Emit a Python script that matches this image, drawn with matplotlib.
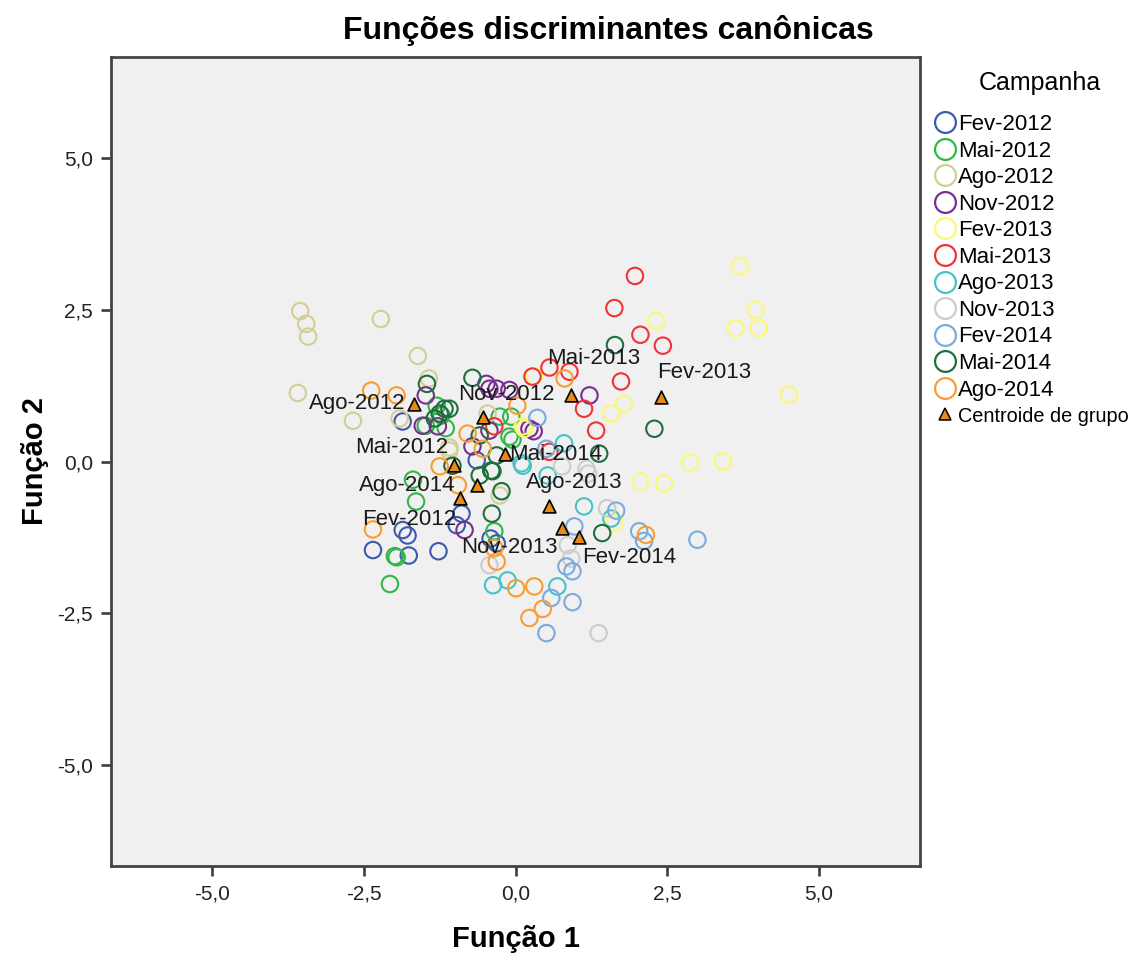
import matplotlib
matplotlib.use("Agg")
import matplotlib.pyplot as plt
from matplotlib.lines import Line2D

plt.rcParams['font.family'] = ['Liberation Sans', 'DejaVu Sans']

# ---- data: discriminant scores per campaign ----
campaigns = ["Fev-2012", "Mai-2012", "Ago-2012", "Nov-2012", "Fev-2013", "Mai-2013",
             "Ago-2013", "Nov-2013", "Fev-2014", "Mai-2014", "Ago-2014"]

fev2012_x = [-2.35, -1.86, -1.78, -1.76, -1.27, -0.89, -0.97, -1.86, -0.64, -0.41, -0.31]
fev2012_y = [-1.46, -1.13, -1.22, -1.55, -1.48, -0.86, -1.05, 0.66, 0.02, -1.27, -1.35]

mai2012_x = [-1.30, -1.22, -1.48, -1.69, -1.64, -1.99, -1.96, -2.07, -0.26, -0.07, -0.10, -0.35, -0.05, -1.15]
mai2012_y = [0.92, 0.76, 0.59, -0.30, -0.66, -1.56, -1.58, -2.02, 0.74, 0.74, 0.41, -1.15, 0.36, 0.55]

ago2012_x = [-3.55, -3.45, -3.42, -2.22, -1.61, -3.59, -2.68, -1.43, -1.09, -0.46, -1.09, -0.26, -1.91]
ago2012_y = [2.48, 2.27, 2.06, 2.35, 1.74, 1.13, 0.67, 1.37, 0.18, 0.79, 0.23, -0.56, 0.71]

nov2012_x = [-1.48, -1.53, -1.28, -0.48, -0.43, -0.31, -0.10, -0.71, -0.43, 0.23, 1.22, 0.30, -0.84]
nov2012_y = [1.09, 0.59, 0.58, 1.28, 1.20, 1.20, 1.18, 0.25, 0.51, 0.54, 1.09, 0.50, -1.13]

fev2013_x = [3.70, 3.96, 3.63, 4.01, 2.32, 4.51, 1.79, 1.58, 2.88, 3.42, 2.06, 2.45, 1.63, 0.31, 0.12, 0.15]
fev2013_y = [3.22, 2.50, 2.20, 2.20, 2.32, 1.10, 0.95, 0.79, -0.02, 0.00, -0.33, -0.36, -1.02, 1.41, 0.58, 0.54]

mai2013_x = [1.97, 1.63, 2.06, 2.43, 1.74, 1.13, 1.33, 0.56, 0.89, 0.28, -0.35, 0.56]
mai2013_y = [3.06, 2.53, 2.09, 1.91, 1.32, 0.87, 0.51, 1.55, 1.48, 1.40, 0.58, 0.16]

ago2013_x = [0.10, 0.80, 1.13, 1.58, -0.37, -0.13, 0.69, 0.53, 0.12]
ago2013_y = [-0.03, 0.30, -0.74, -0.94, -2.04, -1.96, -2.06, -0.23, -0.07]

nov2013_x = [1.37, 0.77, 1.17, 1.51, 0.86, 0.92, -0.43, 1.20]
nov2013_y = [-2.83, -0.08, -0.12, -0.77, -1.38, -1.60, -1.71, -0.20]

fev2014_x = [3.00, 2.04, 2.12, 1.66, 0.97, 0.84, 0.94, 0.59, 0.94, 0.51, 0.36, 0.51]
fev2014_y = [-1.29, -1.15, -1.31, -0.81, -1.07, -1.73, -1.81, -2.25, -2.32, -2.83, 0.72, 0.21]

mai2014_x = [1.64, 2.29, 1.43, 1.38, -1.46, -0.71, -1.25, -1.17, -1.09, -1.33, -0.59, -0.31, -0.40,
             -0.23, -0.39, -1.04, -0.38, -0.59]
mai2014_y = [1.92, 0.54, -1.18, 0.13, 1.28, 1.38, 0.79, 0.87, 0.87, 0.71, 0.43, 0.10, -0.15,
             -0.49, -0.86, -0.07, -0.16, -0.23]

ago2014_x = [-2.38, -1.96, -2.35, -1.25, -0.95, -0.79, -0.54, 0.03, 0.81, 2.15, -0.31, 0.01,
             0.31, 0.45, 0.23, -0.35]
ago2014_y = [1.17, 1.09, -1.12, -0.08, -0.39, 0.46, 0.21, 0.92, 1.37, -1.21, -1.65, -2.09,
             -2.06, -2.43, -2.58, -1.43]

# group centroids (same order as campaigns)
centroid_x = [-0.92, -1.02, -1.68, -0.53, 2.40, 0.92, 0.56, 0.76, 1.05, -0.18, -0.64]
centroid_y = [-0.61, -0.05, 0.95, 0.74, 1.07, 1.10, -0.74, -1.09, -1.25, 0.13, -0.39]

tick_values = [-5.0, -2.5, 0.0, 2.5, 5.0]
tick_labels = ["-5,0", "-2,5", "0,0", "2,5", "5,0"]

# ---- styling ----
colors = ["#3E58AC", "#2EB848", "#D3CE97", "#7B2D8F", "#FBF873", "#EF3338",
          "#48C2C5", "#CCCCCC", "#7BAADD", "#1F6F3C", "#F99D33"]
centroid_color = "#E8891A"
# label offsets (pixels) relative to each centroid
label_offsets = [(-51, -21), (-52, 17), (-56, 0), (23, 22), (43, 24), (22, 36),
                 (25, 24), (-52, -20), (50, -20), (51, -1), (-69, 0)]

series_x = [fev2012_x, mai2012_x, ago2012_x, nov2012_x, fev2013_x, mai2013_x,
            ago2013_x, nov2013_x, fev2014_x, mai2014_x, ago2014_x]
series_y = [fev2012_y, mai2012_y, ago2012_y, nov2012_y, fev2013_y, mai2013_y,
            ago2013_y, nov2013_y, fev2014_y, mai2014_y, ago2014_y]

fig = plt.figure(figsize=(11.46, 9.56), dpi=100)
ax = fig.add_axes([111 / 1146, 1 - 866 / 956, (920 - 111) / 1146, (866 - 57) / 956])
ax.set_facecolor("#F0F0F0")

for xs, ys, c in zip(series_x, series_y, colors):
    ax.scatter(xs, ys, s=140, facecolors="none", edgecolors=c, linewidths=1.5, zorder=2)

ax.scatter(centroid_x, centroid_y, marker="^", s=85, facecolors=centroid_color,
           edgecolors="black", linewidths=1.2, zorder=4)

for name, cx, cy, (dx, dy) in zip(campaigns, centroid_x, centroid_y, label_offsets):
    ax.annotate(name, (cx, cy), xytext=(dx, dy), textcoords="offset pixels",
                ha="center", va="center", fontsize=16, color="#1a1a1a", zorder=5)

ax.set_xlim(-6.67, 6.67)
ax.set_ylim(-6.67, 6.67)
ax.set_xticks(tick_values)
ax.set_xticklabels(tick_labels)
ax.set_yticks(tick_values)
ax.set_yticklabels(tick_labels)
ax.tick_params(direction="out", length=7, width=2, color="#444444", labelsize=15,
               labelcolor="#222222", pad=6)
for sp in ax.spines.values():
    sp.set_color("#444444")
    sp.set_linewidth(2)

ax.set_xlabel("Função 1", fontsize=21, fontweight="bold", labelpad=16)
ax.set_ylabel("Função 2", fontsize=21, fontweight="bold", labelpad=6)
fig.text(608 / 1146, 1 - 30 / 956, "Funções discriminantes canônicas", ha="center",
         va="center", fontsize=23, fontweight="bold")

# legend: title drawn as its own text, entries below it
fig.text(1040 / 1146, 1 - 83 / 956, "Campanha", ha="center", va="center", fontsize=18)
handles = [Line2D([], [], linestyle="none", marker="o", markersize=15, markerfacecolor="none",
                  markeredgecolor=c, markeredgewidth=1.6) for c in colors]
handles.append(Line2D([], [], linestyle="none", marker="^", markersize=9,
                      markerfacecolor=centroid_color, markeredgecolor="black", markeredgewidth=1.1))
leg = fig.legend(handles, campaigns + ["Centroide de grupo"], loc="upper left",
                 bbox_to_anchor=(934 / 1146, 1 - 114 / 956), frameon=False, fontsize=16,
                 handlelength=1.0, handletextpad=0.1, labelspacing=0.25,
                 borderpad=0.0, borderaxespad=0.0)
leg.get_texts()[-1].set_fontsize(14.3)

fig.savefig("out.png", dpi=100)
